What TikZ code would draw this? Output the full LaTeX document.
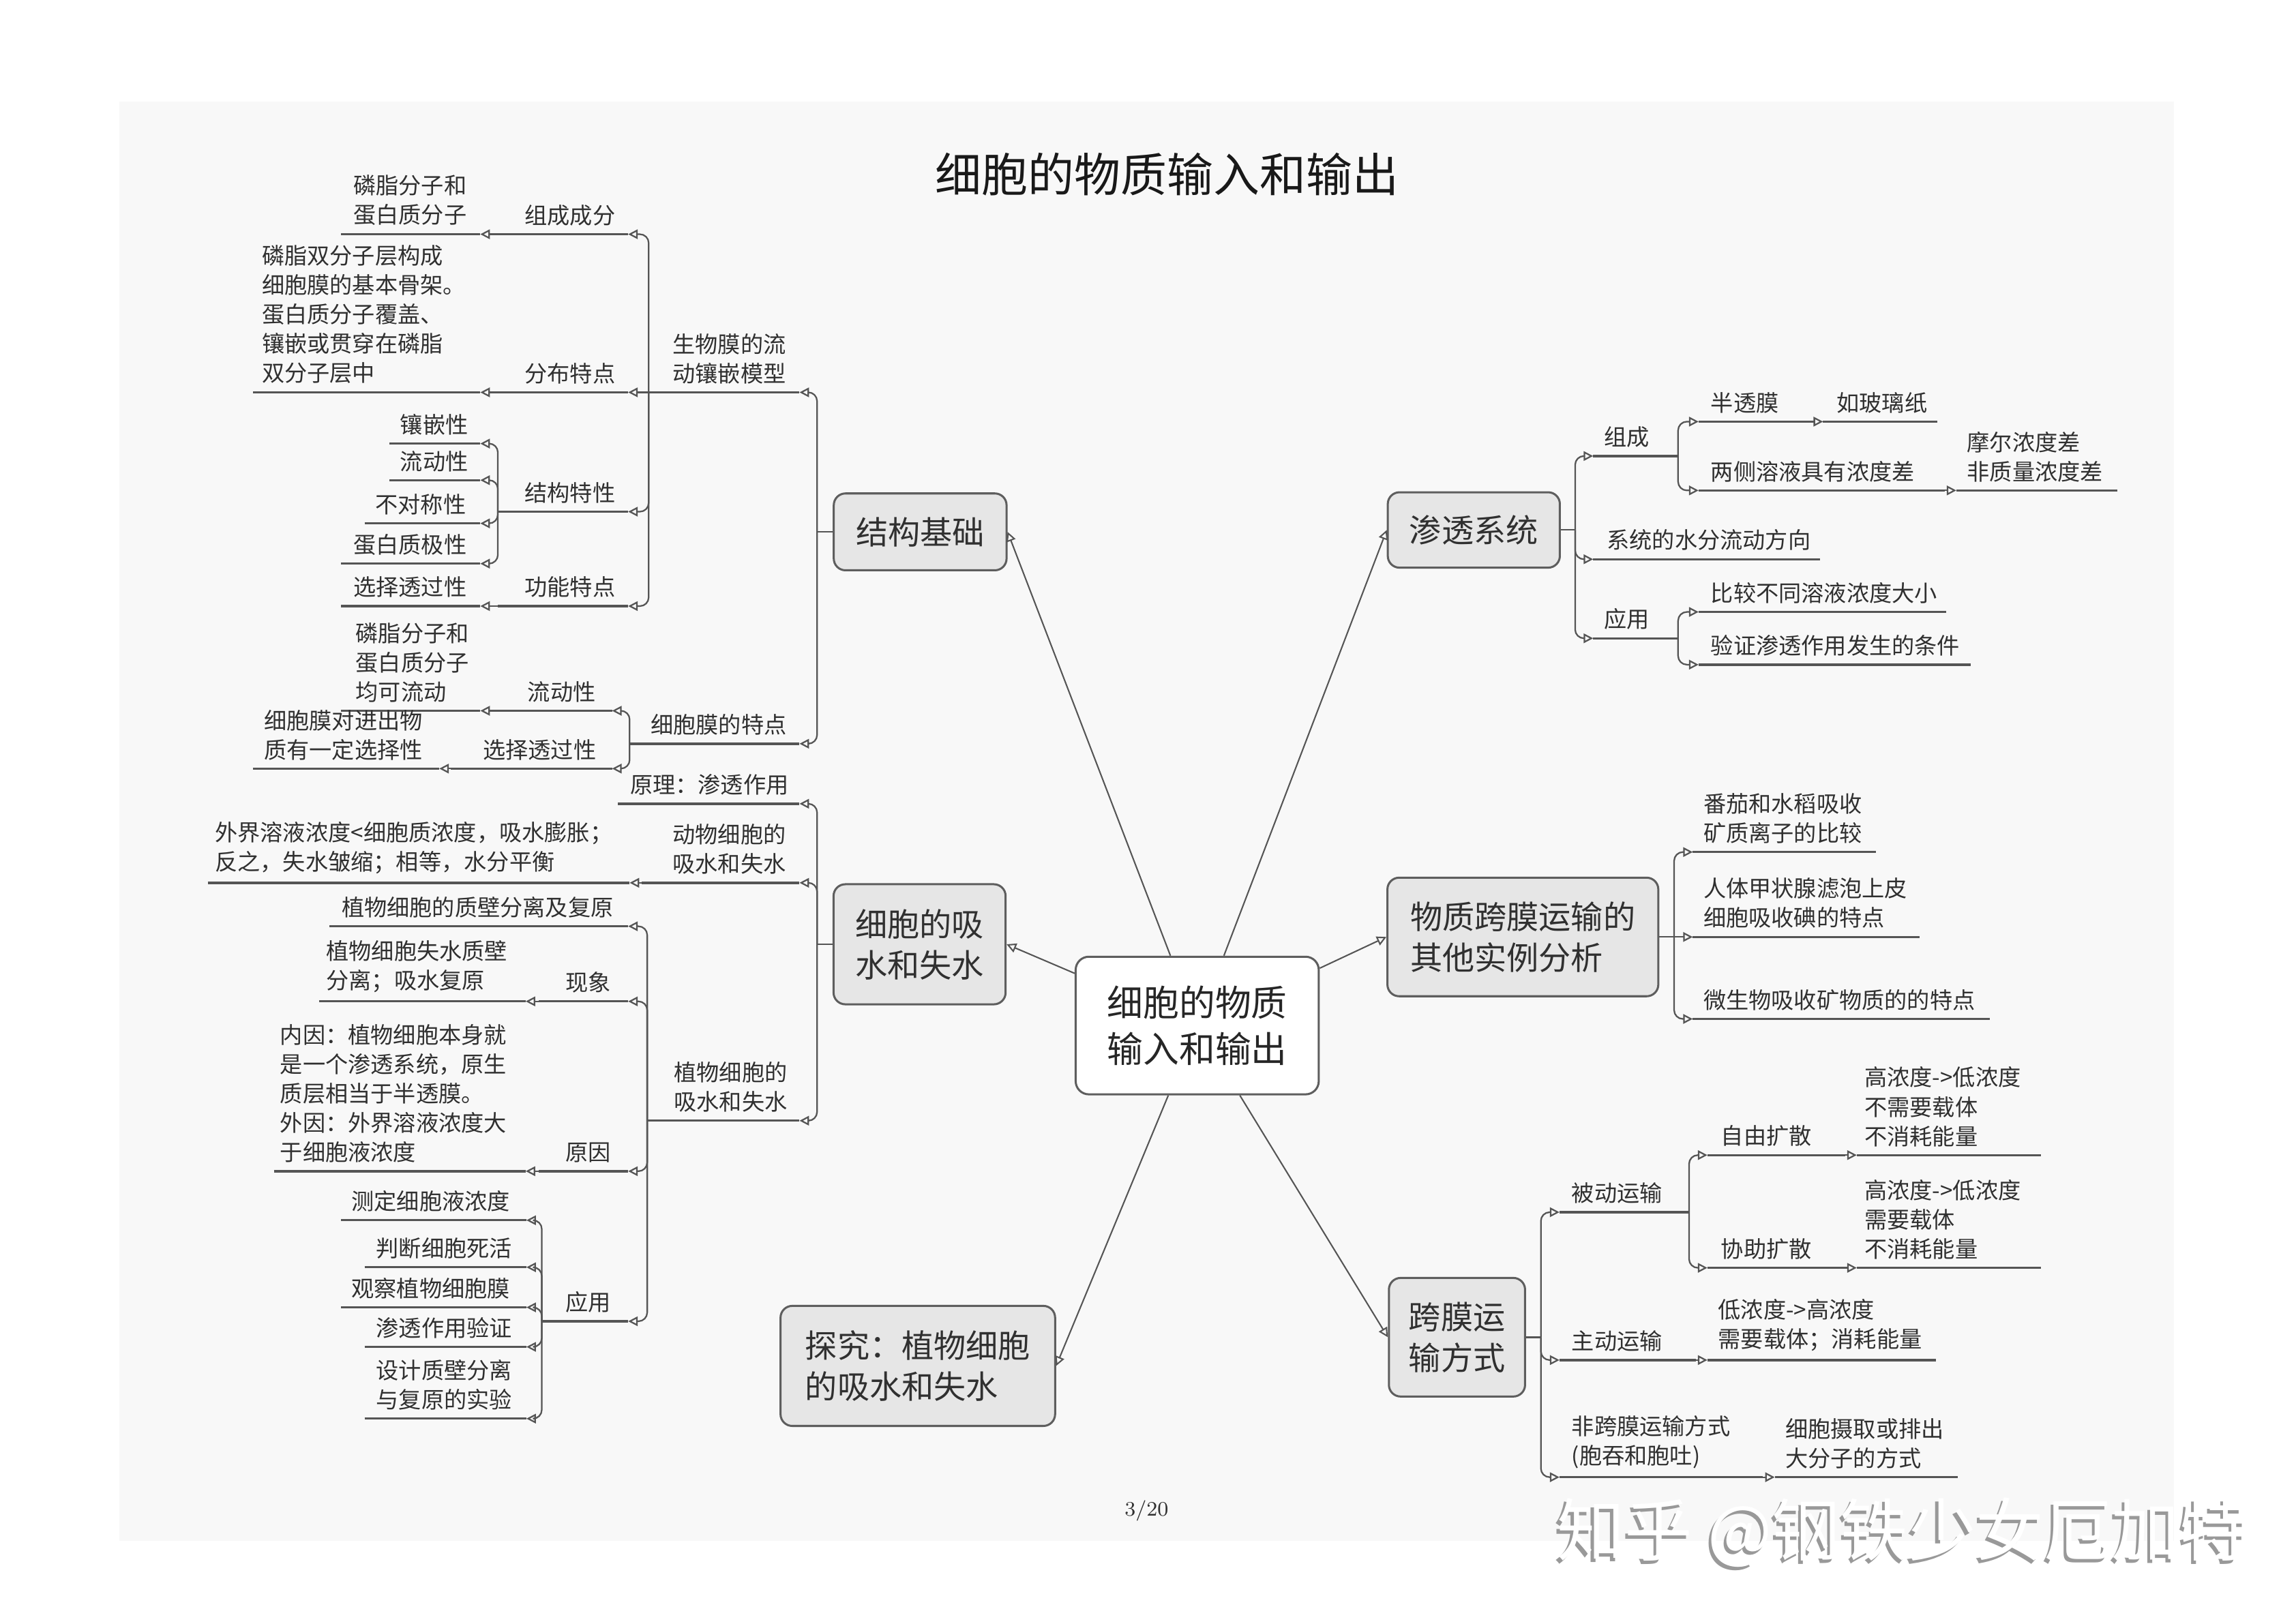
\documentclass[tikz,border=0pt]{standalone}
\usepackage{fontspec}
\usepackage{tikz}
\usetikzlibrary{arrows.meta}
\newfontfamily\cjk{Noto Sans CJK SC}
\definecolor{pagebg}{HTML}{F8F8F8}
\definecolor{boxfill}{HTML}{E6E6E6}
\definecolor{boxline}{HTML}{5E5E5E}
\definecolor{linecol}{HTML}{555555}
\definecolor{txtcol}{HTML}{303030}

\tikzset{
  lbl/.style={anchor=south west, inner sep=0pt, align=left, text=txtcol, font=\fontsize{8.8}{11.4}\selectfont\cjk},
  uline/.style={draw=linecol, line width=0.9pt},
  ln/.style={draw=linecol, line width=0.6pt},
  conn/.style={draw=linecol, line width=0.6pt, rounded corners=1.2mm, -{Triangle[open,length=1.3mm,width=1.3mm]}},
  mainconn/.style={draw=linecol, line width=0.55pt, -{Triangle[open,length=1.3mm,width=1.3mm]}},
  topic/.style={draw=boxline, fill=boxfill, line width=0.8pt, rounded corners=1.6mm, align=left, inner sep=0pt, text=txtcol, font=\fontsize{12.5}{15.9}\selectfont\cjk},
}

% one branch item: name, west x, east x, line y, text x, text
\newcommand{\itm}[6]{%
  \coordinate (#1w) at (#2,#4);
  \coordinate (#1e) at (#3,#4);
  \draw[uline] (#1w) -- (#1e);
  \node[lbl] (#1) at (#5,#4-5.5) {#6};}

\begin{document}
\begin{tikzpicture}[x=0.2mm,y=-0.2mm]
    \useasboundingbox (0,0) rectangle (1568,1109);
    \fill[white] (0,0) rectangle (1568,1109);
    \fill[pagebg] (81.5,69.4) rectangle (1484.6,1052.5);

    \node[font=\fontsize{18}{22}\selectfont\cjk, text=black!90] (title) at (797,119) {细胞的物质输入和输出};

    % centre and topics
    \node[draw=boxline, fill=white, line width=0.8pt, rounded corners=1.8mm, minimum width=33.2mm, minimum height=18.8mm, align=left, font=\fontsize{14}{18.1}\selectfont\cjk, text=black!85] (hub) at (817.6,700.5) {细胞的物质\\输入和输出};
    \node[topic, minimum width=23.6mm, minimum height=10.5mm] (jg) at (628.4,363.3) {结构基础};
    \node[topic, minimum width=23.5mm, minimum height=16.4mm] (xs) at (628,645) {细胞的吸\\水和失水};
    \node[topic, minimum width=37.5mm, minimum height=16.4mm] (tj) at (626.8,933) {探究：植物细胞\\的吸水和失水};
    \node[topic, minimum width=23.5mm, minimum height=10.3mm] (st) at (1006.5,362) {渗透系统};
    \node[topic, minimum width=37mm, minimum height=16.2mm] (sl) at (1040,640) {物质跨膜运输的\\其他实例分析};
    \node[topic, minimum width=18.6mm, minimum height=16.2mm] (ys) at (995,913.4) {跨膜运\\输方式};

    \draw[mainconn] (hub) -- (jg.east);
    \draw[mainconn] (hub) -- (xs.east);
    \draw[mainconn] (hub) -- (tj.east);
    \draw[mainconn] (hub) -- (st.west);
    \draw[mainconn] (hub) -- (sl.west);
    \draw[mainconn] (hub) -- (ys.west);

    % 结构基础
    \itm{jg1}{443}{546}{268}{459}{生物膜的流\\动镶嵌模型}
    \itm{jg2}{430}{546}{508}{444}{细胞膜的特点}
    \itm{jg11}{340}{429}{160}{358}{组成成分}
    \itm{jg12}{340}{429}{268}{358}{分布特点}
    \itm{jg13}{340}{429}{349.5}{358}{结构特性}
    \itm{jg14}{340}{429}{414}{358}{功能特点}
    \itm{jg111}{233}{328}{160}{241}{磷脂分子和\\蛋白质分子}
    \itm{jg121}{173}{328}{268}{178.5}{磷脂双分子层构成\\细胞膜的基本骨架。\\蛋白质分子覆盖、\\镶嵌或贯穿在磷脂\\双分子层中}
    \itm{jg131}{266}{328}{303}{273}{镶嵌性}
    \itm{jg132}{266}{328}{328}{273}{流动性}
    \itm{jg133}{249}{328}{357.5}{256}{不对称性}
    \itm{jg134}{233}{328}{385}{241}{蛋白质极性}
    \itm{jg141}{233}{328}{414}{241}{选择透过性}
    \itm{jg21}{336}{418}{485.5}{360}{流动性}
    \itm{jg22}{308}{418}{525}{329.5}{选择透过性}
    \itm{jg211}{233}{328}{485.5}{242.6}{磷脂分子和\\蛋白质分子\\均可流动}
    \itm{jg221}{173}{300}{525}{180}{细胞膜对进出物\\质有一定选择性}

    \coordinate (jgt) at (558,363.3);
    \draw[ln] (jg.west) -- (jgt);
    \draw[conn] (jgt) |- (jg1e);
    \draw[conn] (jgt) |- (jg2e);
    \draw[conn] (jg1w) |- (jg11e);
    \draw[conn] (jg1w) -- (jg12e);
    \draw[conn] (jg1w) |- (jg13e);
    \draw[conn] (jg1w) |- (jg14e);
    \draw[conn] (jg11w) -- (jg111e);
    \draw[conn] (jg12w) -- (jg121e);
    \draw[conn] (jg13w) |- (jg131e);
    \draw[conn] (jg13w) |- (jg132e);
    \draw[conn] (jg13w) |- (jg133e);
    \draw[conn] (jg13w) |- (jg134e);
    \draw[conn] (jg14w) -- (jg141e);
    \draw[conn] (jg2w) |- (jg21e);
    \draw[conn] (jg2w) |- (jg22e);
    \draw[conn] (jg21w) -- (jg211e);
    \draw[conn] (jg22w) -- (jg221e);

    % 细胞的吸水和失水
    \itm{xs1}{422}{546}{549}{430}{原理：渗透作用}
    \itm{xs2}{438}{546}{603}{459}{动物细胞的\\吸水和失水}
    \itm{xs21}{142}{430}{603}{146.5}{外界溶液浓度<细胞质浓度，吸水膨胀；\\反之，失水皱缩；相等，水分平衡}
    \itm{xs3}{442}{546}{765.5}{460}{植物细胞的\\吸水和失水}
    \itm{xs31}{225}{429}{632.7}{233}{植物细胞的质壁分离及复原}
    \itm{xs32}{368}{429}{684}{386}{现象}
    \itm{xs321}{218}{359}{684}{222.5}{植物细胞失水质壁\\分离；吸水复原}
    \itm{xs33}{368}{429}{800}{386}{原因}
    \itm{xs331}{187}{359}{800}{191}{内因：植物细胞本身就\\是一个渗透系统，原生\\质层相当于半透膜。\\外因：外界溶液浓度大\\于细胞液浓度}
    \itm{xs34}{370}{429}{902.5}{386}{应用}
    \itm{xs341}{233}{359.5}{833.5}{239.7}{测定细胞液浓度}
    \itm{xs342}{249}{359.5}{865.6}{256.6}{判断细胞死活}
    \itm{xs343}{233}{359.5}{893}{239.7}{观察植物细胞膜}
    \itm{xs344}{249}{359.5}{920}{256.6}{渗透作用验证}
    \itm{xs345}{249}{359.5}{969}{256.6}{设计质壁分离\\与复原的实验}

    \coordinate (xst) at (558,645);
    \draw[ln] (xs.west) -- (xst);
    \draw[conn] (xst) |- (xs1e);
    \draw[conn] (xst) |- (xs2e);
    \draw[conn] (xst) |- (xs3e);
    \draw[conn] (xs2w) -- (xs21e);
    \draw[conn] (xs3w) |- (xs31e);
    \draw[conn] (xs3w) |- (xs32e);
    \draw[conn] (xs3w) |- (xs33e);
    \draw[conn] (xs3w) |- (xs34e);
    \draw[conn] (xs32w) -- (xs321e);
    \draw[conn] (xs33w) -- (xs331e);
    \draw[conn] (xs34w) |- (xs341e);
    \draw[conn] (xs34w) |- (xs342e);
    \draw[conn] (xs34w) |- (xs343e);
    \draw[conn] (xs34w) |- (xs344e);
    \draw[conn] (xs34w) |- (xs345e);

    % 渗透系统
    \itm{st1}{1088}{1146}{311.5}{1095}{组成}
    \itm{st2}{1088}{1243}{382}{1097}{系统的水分流动方向}
    \itm{st3}{1088}{1146}{436}{1095}{应用}
    \itm{st11}{1160}{1236}{288}{1168}{半透膜}
    \itm{st111}{1245}{1323}{288}{1254}{如玻璃纸}
    \itm{st12}{1160}{1328}{335}{1168}{两侧溶液具有浓度差}
    \itm{st121}{1336}{1446}{335}{1343}{摩尔浓度差\\非质量浓度差}
    \itm{st31}{1160}{1329}{418}{1168}{比较不同溶液浓度大小}
    \itm{st32}{1160}{1346}{454}{1168}{验证渗透作用发生的条件}

    \coordinate (stt) at (1075.7,362);
    \draw[ln] (st.east) -- (stt);
    \draw[conn] (stt) |- (st1w);
    \draw[conn] (stt) |- (st2w);
    \draw[conn] (stt) |- (st3w);
    \draw[conn] (st1e) |- (st11w);
    \draw[conn] (st1e) |- (st12w);
    \draw[conn] (st11e) -- (st111w);
    \draw[conn] (st12e) -- (st121w);
    \draw[conn] (st3e) |- (st31w);
    \draw[conn] (st3e) |- (st32w);

    % 其他实例分析
    \itm{sl1}{1156}{1281}{582}{1163}{番茄和水稻吸收\\矿质离子的比较}
    \itm{sl2}{1156}{1311}{640}{1163}{人体甲状腺滤泡上皮\\细胞吸收碘的特点}
    \itm{sl3}{1156}{1359}{696}{1163}{微生物吸收矿物质的的特点}

    \coordinate (slt) at (1143.3,640);
    \draw[ln] (sl.east) -- (slt);
    \draw[conn] (slt) |- (sl1w);
    \draw[conn] (slt) -- (sl2w);
    \draw[conn] (slt) |- (sl3w);

    % 跨膜运输方式
    \itm{ys1}{1065}{1153.5}{828}{1073}{被动运输}
    \itm{ys2}{1065}{1158}{929}{1073}{主动运输}
    \itm{ys3}{1065}{1204}{1009}{1073}{非跨膜运输方式\\(胞吞和胞吐)}
    \itm{ys11}{1166}{1260}{789}{1175}{自由扩散}
    \itm{ys12}{1166}{1260}{866}{1175}{协助扩散}
    \itm{ys111}{1268}{1394}{789}{1273}{高浓度->低浓度\\不需要载体\\不消耗能量}
    \itm{ys121}{1268}{1394}{866}{1273}{高浓度->低浓度\\需要载体\\不消耗能量}
    \itm{ys21}{1166}{1322}{929}{1173}{低浓度->高浓度\\需要载体；消耗能量}
    \itm{ys31}{1212}{1337}{1009}{1219}{细胞摄取或排出\\大分子的方式}

    \coordinate (yst) at (1052.3,913.4);
    \draw[ln] (ys.east) -- (yst);
    \draw[conn] (yst) |- (ys1w);
    \draw[conn] (yst) |- (ys2w);
    \draw[conn] (yst) |- (ys3w);
    \draw[conn] (ys1e) |- (ys11w);
    \draw[conn] (ys1e) |- (ys12w);
    \draw[conn] (ys11e) -- (ys111w);
    \draw[conn] (ys12e) -- (ys121w);
    \draw[conn] (ys2e) -- (ys21w);
    \draw[conn] (ys3e) -- (ys31w);

    % page number and watermark
    \node[font=\fontsize{8}{10}\selectfont, text=txtcol] (pgno) at (783,1032) {3/20};
    \node[anchor=west, font=\fontsize{26.4}{30}\selectfont\cjk, text=black!40] (wmshadow) at (1055,1049) {知乎 @钢铁少女厄加特};
    \node[anchor=west, font=\fontsize{26.4}{30}\selectfont\cjk, text=white] (wm) at (1057,1047) {知乎 @钢铁少女厄加特};
\end{tikzpicture}
\end{document}
